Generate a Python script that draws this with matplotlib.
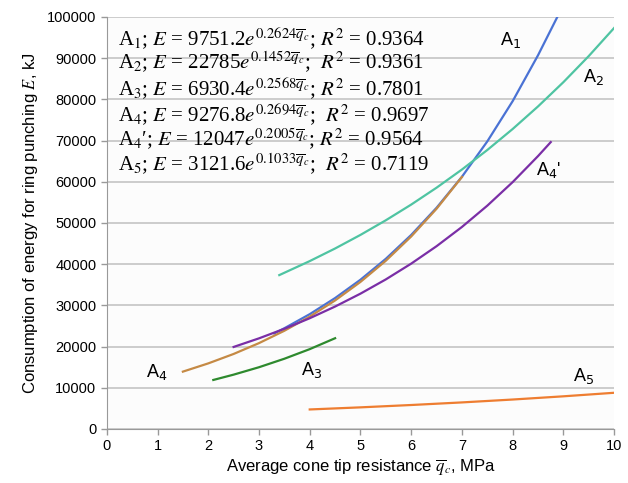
import matplotlib.pyplot as plt

##### DATA #####
a1_x = [3.3, 3.5, 4, 4.5, 5, 5.5, 6, 6.5, 7, 7.5, 8, 8.5, 8.88]
a1_y = [23180, 24430, 27850, 31760, 36210, 41290, 47080, 53680, 61210, 69790, 79570, 90710, 100000]

a2_x = [3.4, 4, 4.5, 5, 5.5, 6, 6.5, 7, 7.5, 8, 8.5, 9, 9.5, 10]
a2_y = [37330, 40730, 43790, 47090, 50640, 54450, 58550, 62960, 67700, 72800, 78280, 84170, 90510, 97330]

a3_x = [2.1, 2.5, 3, 3.5, 4, 4.5]
a3_y = [11880, 13170, 14970, 17030, 19360, 22010]

a4_x = [1.5, 2, 2.5, 3, 3.5, 4, 4.5, 5, 5.5, 6, 6.5, 7]
a4_y = [13900, 15900, 18190, 20820, 23820, 27250, 31180, 35680, 40820, 46710, 53440, 61150]

a4p_x = [2.5, 3, 3.5, 4, 4.5, 5, 5.5, 6, 6.5, 7, 7.5, 8, 8.5, 8.75]
a4p_y = [19890, 21980, 24300, 26860, 29700, 32830, 36290, 40120, 44350, 49020, 54190, 59910, 66230, 69610]

a5_x = [4, 5, 6, 7, 8, 9, 10]
a5_y = [4720, 5230, 5800, 6430, 7130, 7910, 8770]

equations = [
    r"A$_1$; $E$ = 9751.2$e^{0.2624\overline{q}_c}$; $R^2$ = 0.9364",
    r"A$_2$; $E$ = 22785$e^{0.1452\overline{q}_c}$;  $R^2$ = 0.9361",
    r"A$_3$; $E$ = 6930.4$e^{0.2568\overline{q}_c}$; $R^2$ = 0.7801",
    r"A$_4$; $E$ = 9276.8$e^{0.2694\overline{q}_c}$;  $R^2$ = 0.9697",
    r"A$_4$′; $E$ = 12047$e^{0.2005\overline{q}_c}$; $R^2$ = 0.9564",
    r"A$_5$; $E$ = 3121.6$e^{0.1033\overline{q}_c}$;  $R^2$ = 0.7119",
]
curve_labels = [r"A$_1$", r"A$_2$", r"A$_4$'", r"A$_4$", r"A$_3$", r"A$_5$"]
label_x = [7.95, 9.6, 8.7, 0.99, 4.04, 9.39]
label_y = [94400, 85400, 62900, 13800, 14300, 12900]

plt.rcParams['mathtext.fontset'] = 'stix'
plt.rcParams['font.family'] = 'Liberation Sans'

fig = plt.figure(figsize=(6.28, 4.83), dpi=100, facecolor='white')
ax = fig.add_axes([0.170, 0.112, 0.808, 0.853])
ax.set_facecolor('#fcfcfc')

ax.plot(a4_x, a4_y, color='#C58A45', lw=1.6, zorder=3)
ax.plot(a1_x, a1_y, color='#4A72D4', lw=1.6, zorder=2)
ax.plot(a2_x, a2_y, color='#4FC4A2', lw=1.6, zorder=3)
ax.plot(a3_x, a3_y, color='#2E8A2E', lw=1.6, zorder=3)
ax.plot(a4p_x, a4p_y, color='#7A2EA6', lw=1.6, zorder=3)
ax.plot(a5_x, a5_y, color='#EE7D31', lw=1.6, zorder=3)

ax.set_xlim(0, 10)
ax.set_ylim(0, 100000)
ax.set_xticks(range(0, 11))
ax.set_yticks(range(0, 100001, 10000))
ax.yaxis.grid(True, color='#cccccc', lw=1.4)
ax.set_axisbelow(True)
ax.tick_params(axis='both', labelsize=10.5, color='#999999', length=4, width=1)
ax.spines.right.set_visible(False)
ax.spines.top.set_visible(False)
ax.spines['left'].set_color('#999999')
ax.spines['bottom'].set_color('#999999')

ax.set_xlabel(r"Average cone tip resistance $\overline{q}_c$, MPa", fontsize=12, labelpad=3)
ax.set_ylabel(r"Consumption of energy for ring punching $E$, kJ", fontsize=12, labelpad=5)

for i, s in enumerate(equations):
    ax.text(0.22, 95000 - i * 6150, s, fontsize=15, family='Liberation Serif', va='center', ha='left')

for s, lx, ly in zip(curve_labels, label_x, label_y):
    ax.text(lx, ly, s, fontsize=13, ha='center', va='center', math_fontfamily='dejavusans')

fig.savefig("out.png", dpi=100)
